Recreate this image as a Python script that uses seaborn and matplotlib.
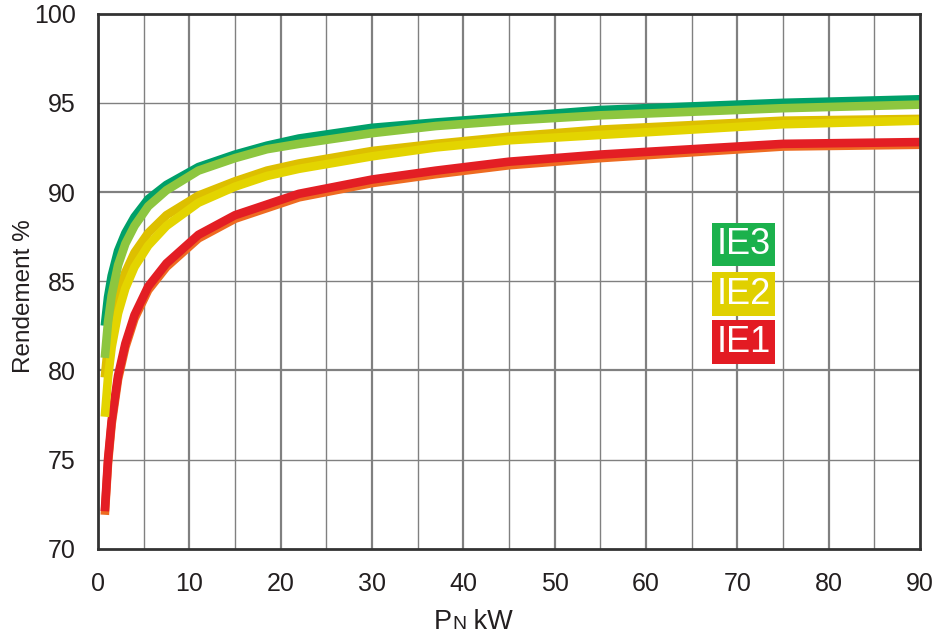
import matplotlib
matplotlib.use("Agg")
import matplotlib.pyplot as plt
from matplotlib.offsetbox import TextArea, HPacker, AnchoredOffsetbox
from matplotlib.ticker import MultipleLocator
import numpy as np
import pandas as pd
import seaborn as sns

# puissance nominale (kW) and rendement (%)
kw = [0.75, 1.1, 1.5, 2.2, 3, 4, 5.5, 7.5, 11, 15, 18.5, 22, 30, 37, 45, 55, 75, 90]
ie3_haut = [82.5, 84.1, 85.3, 86.7, 87.7, 88.6, 89.6, 90.4, 91.4, 92.1, 92.6, 93.0, 93.6, 93.9, 94.2, 94.6, 95.0, 95.2]
ie3_bas = [80.7, 82.7, 84.2, 85.9, 87.1, 88.1, 89.2, 90.1, 91.2, 91.9, 92.4, 92.7, 93.3, 93.7, 94.0, 94.3, 94.7, 94.9]
ie2_haut = [79.6, 81.4, 82.8, 84.3, 85.5, 86.6, 87.7, 88.7, 89.8, 90.6, 91.2, 91.6, 92.3, 92.7, 93.1, 93.5, 94.0, 94.1]
ie2_bas = [77.4, 79.6, 81.3, 83.2, 84.6, 85.8, 87.0, 88.1, 89.4, 90.3, 90.9, 91.3, 92.0, 92.5, 92.9, 93.2, 93.8, 94.0]
ie1_haut = [72.1, 75.0, 77.2, 79.7, 81.5, 83.1, 84.7, 86.0, 87.6, 88.7, 89.3, 89.9, 90.7, 91.2, 91.7, 92.1, 92.7, 92.8]
ie1_bas = [71.9, 74.8, 77.0, 79.5, 81.3, 82.9, 84.5, 85.8, 87.4, 88.5, 89.1, 89.7, 90.5, 91.0, 91.5, 91.9, 92.55, 92.65]

classes = ["IE3", "IE2", "IE1"]
class_colors = {"IE3": "#1BB14C", "IE2": "#E0D000", "IE1": "#E31B23"}

# drawing order: bottom first
curves = [
    ("IE1 bas", ie1_bas, "#EE6B21"),
    ("IE1 haut", ie1_haut, "#E31E24"),
    ("IE2 haut", ie2_haut, "#DDBF00"),
    ("IE2 bas", ie2_bas, "#E3D400"),
    ("IE3 haut", ie3_haut, "#00A069"),
    ("IE3 bas", ie3_bas, "#8DC63F"),
]

df = pd.concat(
    [pd.DataFrame({"kW": kw, "rendement": vals, "courbe": name}) for name, vals, _ in curves],
    ignore_index=True,
)

sns.set_style("white")
plt.rcParams["font.family"] = ["Liberation Sans", "DejaVu Sans"]

fig = plt.figure(figsize=(9.42, 6.39), dpi=100)
ax = fig.add_axes([0.104, 0.1413, 0.8726, 0.8373])

grid_col = "#808080"
txt_col = "#231F20"
ax.set_xlim(0, 90)
ax.set_ylim(70, 100)
ax.xaxis.set_major_locator(MultipleLocator(10))
ax.yaxis.set_major_locator(MultipleLocator(5))

# major grid every 10, minor every 5
for v in range(10, 90, 10):
    ax.axvline(v, color=grid_col, lw=1.6, zorder=1)
for v in range(5, 90, 10):
    ax.axvline(v, color=grid_col, lw=1.0, zorder=1)
for v in (80, 90):
    ax.axhline(v, color=grid_col, lw=1.6, zorder=1)
for v in (75, 85, 95):
    ax.axhline(v, color=grid_col, lw=1.0, zorder=1)

for name, _, col in curves:
    sns.lineplot(
        data=df[df["courbe"] == name], x="kW", y="rendement",
        color=col, lw=6.2, ax=ax, zorder=3,
        solid_capstyle="butt", solid_joinstyle="round",
    )

for sp in ax.spines.values():
    sp.set_color("#333333")
    sp.set_linewidth(2)
    sp.set_zorder(4)

ax.tick_params(axis="x", which="major", length=11, width=1.6, color=grid_col,
               labelsize=18, labelcolor=txt_col, pad=6)
ax.tick_params(axis="y", which="both", length=10, width=1, color="#BBBBBB",
               labelsize=18, labelcolor=txt_col, pad=6)
ax.set_yticks(np.arange(70, 101, 5))

ax.set_ylabel("Rendement %", fontsize=17.5, color=txt_col)
ax.yaxis.set_label_coords(-0.077, 0.472)
ax.set_xlabel("")

# "PN kW" with small-cap N
parts = [
    TextArea("P", textprops=dict(size=19.5, color=txt_col)),
    TextArea("N", textprops=dict(size=14, color=txt_col)),
    TextArea(" kW", textprops=dict(size=19.5, color=txt_col)),
]
box = HPacker(children=parts, align="baseline", pad=0, sep=0)
anch = AnchoredOffsetbox(loc="upper center", child=box, pad=0, frameon=False,
                         bbox_to_anchor=(0.457, -0.113), bbox_transform=ax.transAxes,
                         borderpad=0)
ax.add_artist(anch)

# class labels
label_y = {"IE3": 87.06, "IE2": 84.28, "IE1": 81.59}
for c in classes:
    ax.text(70.7, label_y[c], c, fontsize=26, color="white", ha="center", va="center",
            zorder=5,
            bbox=dict(boxstyle="square,pad=0.12", fc=class_colors[c], ec="none"))

fig.savefig("out.png", dpi=100)
